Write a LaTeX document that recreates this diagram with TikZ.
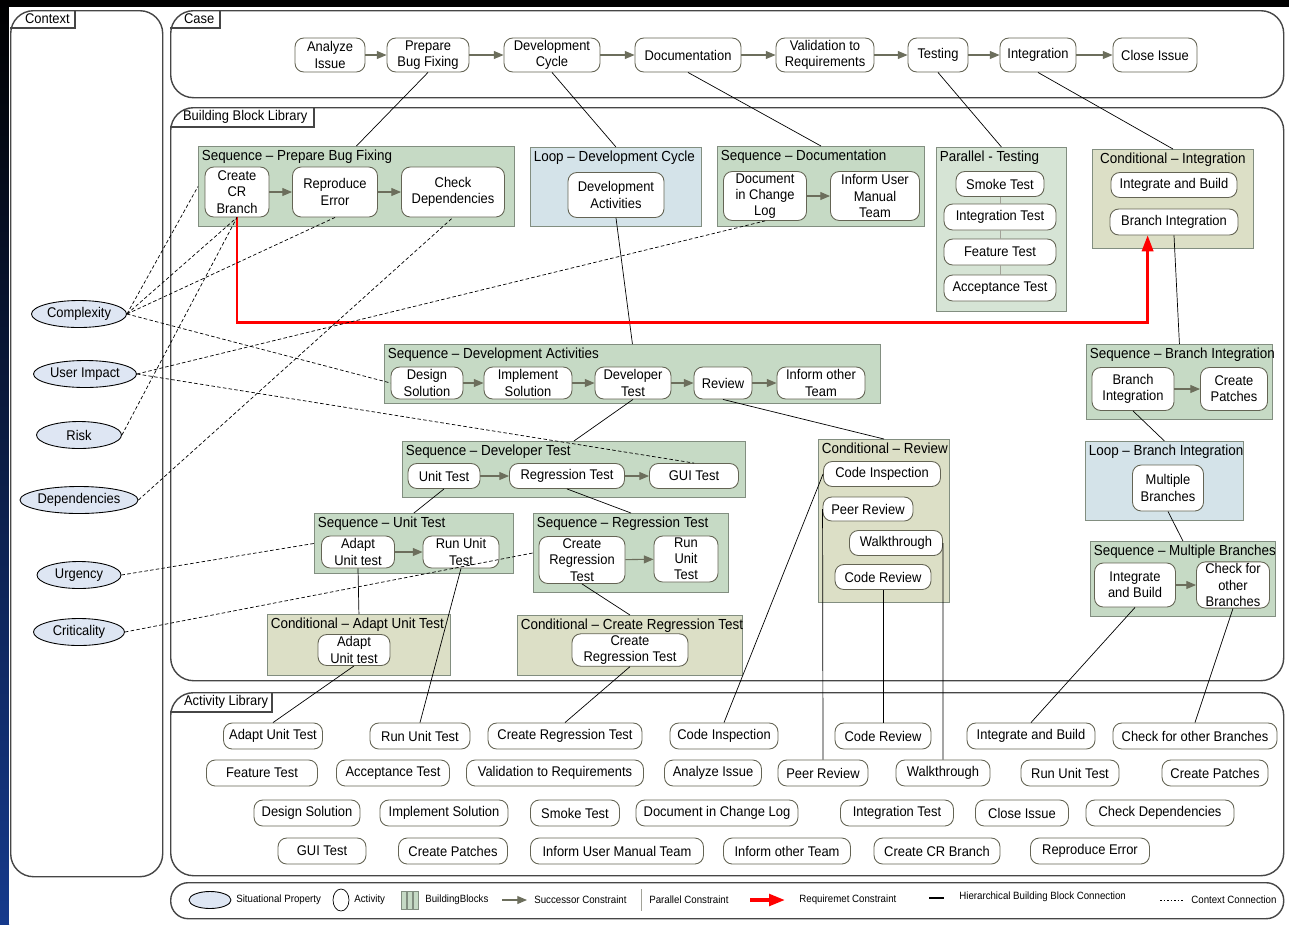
\documentclass[tikz,border=0pt]{standalone}
\usepackage{fontspec}
\setmainfont{Liberation Sans}[FakeStretch=0.92]
\usepackage{tikz}
\definecolor{seqgreen}{RGB}{198,218,197}
\definecolor{pargreen}{RGB}{214,228,213}
\definecolor{loopblue}{RGB}{212,227,233}
\definecolor{condolive}{RGB}{220,223,198}
\definecolor{blkborder}{RGB}{130,142,128}
\definecolor{actborder}{RGB}{100,100,84}
\definecolor{succgray}{RGB}{108,110,92}
\definecolor{propblue}{RGB}{222,230,243}
\definecolor{framegray}{RGB}{70,70,70}
\definecolor{stripblue}{RGB}{22,58,140}
\usetikzlibrary{arrows.meta, shapes.geometric, positioning, calc}

\begin{document}
\begin{tikzpicture}[
    x=0.02cm, y=-0.02cm,
    font=\fontsize{8}{9.2}\selectfont,
    sz/.style 2 args={minimum width=#1*0.02cm, minimum height=#2*0.02cm},
    frame/.style={rectangle, draw=framegray, line width=0.8pt, rounded corners=13pt, anchor=north west, inner sep=0pt},
    tabline/.style={draw=framegray, line width=0.6pt},
    tablbl/.style={anchor=west, inner sep=1pt},
    block/.style={rectangle, draw=blkborder, line width=0.5pt, anchor=north west, inner sep=0pt},
    seqblk/.style={block, fill=seqgreen},
    parblk/.style={block, fill=pargreen},
    loopblk/.style={block, fill=loopblue},
    condblk/.style={block, fill=condolive},
    blktitle/.style={anchor=north west, inner sep=2pt, font=\fontsize{8.3}{9.5}\selectfont},
    act/.style={rectangle, draw=actborder, fill=white, rounded corners=5pt, align=center, inner sep=1pt, line width=0.5pt},
    libact/.style={act, sz={#1}{26}},
    prop/.style={ellipse, draw=black, fill=propblue, line width=0.5pt, inner sep=0pt},
    succ/.style={-{Triangle[length=5.5pt,width=4.5pt]}, draw=succgray, color=succgray, line width=0.6pt},
    parline/.style={draw=actborder!60, line width=0.5pt},
    hier/.style={draw=black, line width=0.4pt},
    ctxline/.style={draw=black, line width=0.4pt, dash pattern=on 2pt off 1.3pt},
    reqarrow/.style={draw=red, line width=1.3pt, -{Triangle[length=9pt,width=6.5pt]}},
    lgtxt/.style={anchor=west, inner sep=0pt, font=\fontsize{6}{6.5}\selectfont}
]
    % background
    \useasboundingbox (0,0) rectangle (1289,924);
    \fill[black] (0,0) rectangle (1289,924);
    \shade[top color=black, bottom color=stripblue] (0,0) rectangle (9,924);
    \fill[white] (9,7) rectangle (1289,924);

    % Frames
    \node[frame, sz={152}{866}] (ctx) at (10,10) {};
    \draw[tabline] (10,28) -| (75,10);
    \node[tablbl] (ctxlbl) at (23,19) {Context};

    \node[frame, sz={1113}{87}] (case) at (170,10) {};
    \draw[tabline] (170,28) -| (220,10);
    \node[tablbl] (caselbl) at (182,19) {Case};

    \node[frame, sz={1113}{573}] (bbl) at (170,107) {};
    \draw[tabline] (170,127) -| (314,107);
    \node[tablbl] (bbllbl) at (181,117) {Building Block Library};

    \node[frame, sz={1113}{183}] (alib) at (170,692) {};
    \draw[tabline] (170,712) -| (272,692);
    \node[tablbl] (aliblbl) at (182,702) {Activity Library};

    \node[frame, rounded corners=10pt, sz={1113}{36}] (legend) at (170,882) {};

    % Case
    \node[act, sz={70}{34}] (ai) at (330,55) {Analyze\\Issue};
    \node[act, sz={82}{34}] (pb) at (428,55) {Prepare\\Bug Fixing};
    \node[act, sz={96}{34}] (dc) at (552,55) {Development\\Cycle};
    \node[act, sz={106}{34}] (doc) at (688,55) {Documentation};
    \node[act, sz={98}{34}] (val) at (825,55) {Validation to\\Requirements};
    \node[act, sz={60}{34}] (tst) at (938,55) {Testing};
    \node[act, sz={76}{34}] (int) at (1038,55) {Integration};
    \node[act, sz={84}{34}] (ci) at (1155,55) {Close Issue};
    \foreach \a/\b in {ai/pb, pb/dc, dc/doc, doc/val, val/tst, tst/int, int/ci}
        \draw[succ] (\a) -- (\b);

    % Sequence - Prepare Bug Fixing
    \node[seqblk, sz={316}{80}] (seqPBF) at (198,146) {};
    \node[blktitle] (tPBF) at (seqPBF.north west) {Sequence – Prepare Bug Fixing};
    \node[act, sz={64}{50}] (cr) at (237,192) {Create\\CR\\Branch};
    \node[act, sz={85}{50}] (re) at (335,192) {Reproduce\\Error};
    \node[act, sz={103}{50}] (cd) at (453,192) {Check\\Dependencies};
    \draw[succ] (cr) -- (re);
    \draw[succ] (re) -- (cd);

    % Loop - Development Cycle
    \node[loopblk, sz={171}{79}] (loopDC) at (530,147) {};
    \node[blktitle] (tDC) at (loopDC.north west) {Loop – Development Cycle};
    \node[act, sz={96}{45}] (da) at (616,195) {Development\\Activities};

    % Sequence - Documentation
    \node[seqblk, sz={207}{80}] (seqDoc) at (717,146) {};
    \node[blktitle] (tDoc) at (seqDoc.north west) {Sequence – Documentation};
    \node[act, sz={83}{49}] (dcl) at (765,196) {Document\\in Change\\Log};
    \node[act, sz={89}{49}] (ium) at (875,196) {Inform User\\Manual\\Team};
    \draw[succ] (dcl) -- (ium);

    % Parallel - Testing
    \node[parblk, sz={130}{164}] (parTest) at (936,147) {};
    \node[blktitle] (tPT) at (parTest.north west) {Parallel - Testing};
    \node[act, sz={88}{25}] (smk) at (1000,184) {Smoke Test};
    \node[act, sz={112}{26}] (itt) at (1000,217) {Integration Test};
    \node[act, sz={112}{26}] (ftt) at (1000,252) {Feature Test};
    \node[act, sz={112}{26}] (act) at (1000,288) {Acceptance Test};
    \draw[parline] (smk) -- (itt);
    \draw[parline] (itt) -- (ftt);
    \draw[parline] (ftt) -- (act);

    % Conditional - Integration
    \node[condblk, sz={161}{99}] (condInt) at (1092,149) {};
    \node[blktitle, anchor=north] (tCI) at (condInt.north) {Conditional – Integration};
    \node[act, sz={126}{25}] (ib) at (1174,185) {Integrate and Build};
    \node[act, sz={128}{26}] (bi) at (1174,222) {Branch Integration};

    % Sequence - Development Activities
    \node[seqblk, sz={496}{59}] (seqDA) at (384,344) {};
    \node[blktitle] (tDA) at (seqDA.north west) {Sequence – Development Activities};
    \node[act, sz={72}{32}] (ds) at (427,383) {Design\\Solution};
    \node[act, sz={88}{32}] (is) at (528,383) {Implement\\Solution};
    \node[act, sz={76}{32}] (dt) at (633,383) {Developer\\Test};
    \node[act, sz={58}{32}] (rv) at (723,383) {Review};
    \node[act, sz={88}{32}] (iot) at (821,383) {Inform other\\Team};
    \foreach \a/\b in {ds/is, is/dt, dt/rv, rv/iot}
        \draw[succ] (\a) -- (\b);

    % Sequence - Branch Integration
    \node[seqblk, sz={186}{75}] (seqBI) at (1086,344) {};
    \node[blktitle] (tBI) at (seqBI.north west) {Sequence – Branch Integration};
    \node[act, sz={82}{43}] (bi2) at (1133,389) {Branch\\Integration};
    \node[act, sz={67}{43}] (cp) at (1234,389) {Create\\Patches};
    \draw[succ] (bi2) -- (cp);

    % Sequence - Developer Test
    \node[seqblk, sz={343}{56}] (seqDT) at (402,441) {};
    \node[blktitle] (tDT) at (seqDT.north west) {Sequence – Developer Test};
    \node[act, sz={72}{25}] (ut) at (444,476) {Unit Test};
    \node[act, sz={115}{25}] (rt) at (567,476) {Regression Test};
    \node[act, sz={89}{25}] (gui) at (694,476) {GUI Test};
    \draw[succ] (ut) -- (rt);
    \draw[succ] (rt) -- (gui);

    % Conditional - Review
    \node[condblk, sz={131}{163}] (condRev) at (818,439) {};
    \node[blktitle] (tRev) at (condRev.north west) {Conditional – Review};
    \node[act, sz={117}{25}] (cin) at (882,474) {Code Inspection};
    \node[act, sz={90}{24}] (pr) at (868,509) {Peer Review};
    \node[act, sz={93}{25}] (wt) at (896,543) {Walkthrough};
    \node[act, sz={96}{25}] (crv) at (883,577) {Code Review};

    % Loop - Branch Integration
    \node[loopblk, sz={158}{79}] (loopBI) at (1085,441) {};
    \node[blktitle] (tLBI) at (loopBI.north west) {Loop – Branch Integration};
    \node[act, sz={71}{46}] (mb) at (1168,488) {Multiple\\Branches};

    % Sequence - Unit Test
    \node[seqblk, sz={199}{60}] (seqUT) at (314,513) {};
    \node[blktitle] (tUT) at (seqUT.north west) {Sequence – Unit Test};
    \node[act, sz={73}{32}] (aut) at (358,552) {Adapt\\Unit test};
    \node[act, sz={76}{32}] (rut) at (461,552) {Run Unit\\Test};
    \draw[succ] (aut) -- (rut);

    % Sequence - Regression Test
    \node[seqblk, sz={195}{79}] (seqRT) at (533,513) {};
    \node[blktitle] (tRT) at (seqRT.north west) {Sequence – Regression Test};
    \node[act, sz={86}{47}] (crt) at (582,560) {Create\\Regression\\Test};
    \node[act, sz={64}{46}] (rut2) at (686,559) {Run\\Unit\\Test};
    \draw[succ] (crt) -- (rut2);

    % Sequence - Multiple Branches
    \node[seqblk, sz={185}{75}] (seqMB) at (1090,541) {};
    \node[blktitle] (tMB) at (seqMB.north west) {Sequence – Multiple Branches};
    \node[act, sz={81}{44}] (iab) at (1135,585) {Integrate\\and Build};
    \node[act, sz={73}{44}] (cob) at (1233,585) {Check for\\other\\Branches};
    \draw[succ] (iab) -- (cob);

    % Conditional - Adapt Unit Test
    \node[condblk, sz={183}{61}] (condAUT) at (267,614) {};
    \node[blktitle] (tAUT) at (condAUT.north west) {Conditional – Adapt Unit Test};
    \node[act, sz={72}{31}] (aut2) at (354,650) {Adapt\\Unit test};

    % Conditional - Create Regression Test
    \node[condblk, sz={225}{60}] (condCRT) at (517,615) {};
    \node[blktitle] (tCRT) at (condCRT.north west) {Conditional – Create Regression Test};
    \node[act, sz={116}{32}] (crt2) at (630,650) {Create\\Regression Test};

    % Activity Library
    \node[libact=99] (lAUT) at (273,736) {Adapt Unit Test};
    \node[libact=100] (lRUT) at (420,736) {Run Unit Test};
    \node[libact=154] (lCRT) at (565,736) {Create Regression Test};
    \node[libact=108] (lCI) at (724,736) {Code Inspection};
    \node[libact=96] (lCR) at (883,736) {Code Review};
    \node[libact=128] (lIB) at (1031,736) {Integrate and Build};
    \node[libact=164] (lCOB) at (1195,736) {Check for other Branches};

    \node[libact=111] (lFT) at (262,773) {Feature Test};
    \node[libact=113] (lAT) at (393,773) {Acceptance Test};
    \node[libact=177] (lVR) at (555,773) {Validation to Requirements};
    \node[libact=97] (lAI) at (713,773) {Analyze Issue};
    \node[libact=90] (lPR) at (823,773) {Peer Review};
    \node[libact=94] (lWT) at (943,773) {Walkthrough};
    \node[libact=98] (lRUT2) at (1070,773) {Run Unit Test};
    \node[libact=106] (lCP) at (1215,773) {Create Patches};

    \node[libact=106] (lDS) at (307,813) {Design Solution};
    \node[libact=128] (lIS) at (444,813) {Implement Solution};
    \node[libact=89] (lST) at (575,813) {Smoke Test};
    \node[libact=162] (lDCL) at (717,813) {Document in Change Log};
    \node[libact=113] (lIT) at (897,813) {Integration Test};
    \node[libact=93] (lCLI) at (1022,813) {Close Issue};
    \node[libact=148] (lCD) at (1160,813) {Check Dependencies};

    \node[libact=88] (lGUI) at (322,851) {GUI Test};
    \node[libact=109] (lCP2) at (453,851) {Create Patches};
    \node[libact=173] (lIUM) at (617,851) {Inform User Manual Team};
    \node[libact=127] (lIOT) at (787,851) {Inform other Team};
    \node[libact=126] (lCCR) at (937,851) {Create CR Branch};
    \node[libact=119] (lRE) at (1090,851) {Reproduce Error};

    % Context properties
    \node[prop, sz={95}{27}] (cpx) at (79,314) {Complexity};
    \node[prop, sz={103}{27}] (uim) at (85,374) {User Impact};
    \node[prop, sz={85}{27}] (rsk) at (79,435) {Risk};
    \node[prop, sz={118}{27}] (dep) at (79,500) {Dependencies};
    \node[prop, sz={84}{27}] (urg) at (79,575) {Urgency};
    \node[prop, sz={91}{27}] (crit) at (79,632) {Criticality};

    % Hierarchical connections
    \draw[hier] (pb.south) -- (seqPBF.north);
    \draw[hier] (dc.south) -- (loopDC.north);
    \draw[hier] (doc.south) -- (seqDoc.north);
    \draw[hier] (tst.south) -- (parTest.north);
    \draw[hier] (int.south) -- (condInt.north);
    \draw[hier] (da.south) -- (seqDA.north);
    \draw[hier] (bi.south) -- (seqBI.north);
    \draw[hier] (dt.south) -- (seqDT.north);
    \draw[hier] (rv.south) -- (condRev.north);
    \draw[hier] (ut.south) -- (seqUT.north);
    \draw[hier] (rt.south) -- (seqRT.north);
    \draw[hier] (aut.south) -- (condAUT.north);
    \draw[hier] (crt.south) -- (condCRT.north);
    \draw[hier] (bi2.south) -- (loopBI.north);
    \draw[hier] (mb.south) -- (seqMB.north);
    \draw[hier] (aut2.south) -- (lAUT.north);
    \draw[hier] (rut.south) -- (lRUT.north);
    \draw[hier] (crt2.south) -- (lCRT.north);
    \draw[hier] (cin.west) -- (lCI.north);
    \draw[hier] (pr.west) -- (lPR.north);
    \draw[hier] (crv.south) -- (lCR.north);
    \draw[hier] (wt.east) -- (lWT.north);
    \draw[hier] (iab.south) -- (lIB.north);
    \draw[hier] (cob.south) -- (lCOB.north);

    % Requirement constraint
    \draw[reqarrow] (cr.south) -- ++(0,105) -| (bi.207);

    % Context connections
    \draw[ctxline] (cpx.east) -- (seqPBF.west);
    \draw[ctxline] (cpx.east) -- (cr.south);
    \draw[ctxline] (cpx.east) -- (re.south);
    \draw[ctxline] (cpx.east) -- (ds.west);
    \draw[ctxline] (uim.east) -- (dcl.south);
    \draw[ctxline] (uim.east) -- (gui.north);
    \draw[ctxline] (rsk.east) -- (cr.south);
    \draw[ctxline] (dep.east) -- (cd.south);
    \draw[ctxline] (urg.east) -- (seqUT.west);
    \draw[ctxline] (crit.east) -- (seqRT.west);

    % Legend
    \node[prop, sz={42}{17}] (lgProp) at (210,900) {};
    \node[lgtxt] (lgPropT) at (236,900) {Situational Property};
    \node[ellipse, draw=black, line width=0.4pt, sz={16}{22}, inner sep=0pt] (lgAct) at (341,900) {};
    \node[lgtxt] (lgActT) at (354,900) {Activity};
    \foreach \i in {0,1,2}
        \node[block, fill=seqgreen, sz={5}{18}] (lgBlk\i) at (401+6*\i,891) {};
    \node[lgtxt] (lgBlkT) at (425,900) {BuildingBlocks};
    \coordinate (lgS1) at (502,900);
    \coordinate (lgS2) at (527,900);
    \draw[succ] (lgS1) -- (lgS2);
    \node[lgtxt] (lgSuccT) at (534,900) {Successor Constraint};
    \coordinate (lgP1) at (641,889);
    \coordinate (lgP2) at (641,911);
    \draw[parline] (lgP1) -- (lgP2);
    \node[lgtxt] (lgParT) at (649,900) {Parallel Constraint};
    \coordinate (lgR1) at (750,900);
    \coordinate (lgR2) at (785,900);
    \draw[reqarrow, line width=2pt] (lgR1) -- (lgR2);
    \node[lgtxt] (lgReqT) at (799,900) {Requiremet Constraint};
    \coordinate (lgH1) at (929,898);
    \coordinate (lgH2) at (944,898);
    \draw[hier, line width=0.7pt] (lgH1) -- (lgH2);
    \node[lgtxt] (lgHierT) at (959,897) {Hierarchical Building Block Connection};
    \coordinate (lgC1) at (1160,900);
    \coordinate (lgC2) at (1183,900);
    \draw[ctxline, dash pattern=on 1pt off 1pt] (lgC1) -- (lgC2);
    \node[lgtxt] (lgCtxT) at (1191,900) {Context Connection};
\end{tikzpicture}
\end{document}
